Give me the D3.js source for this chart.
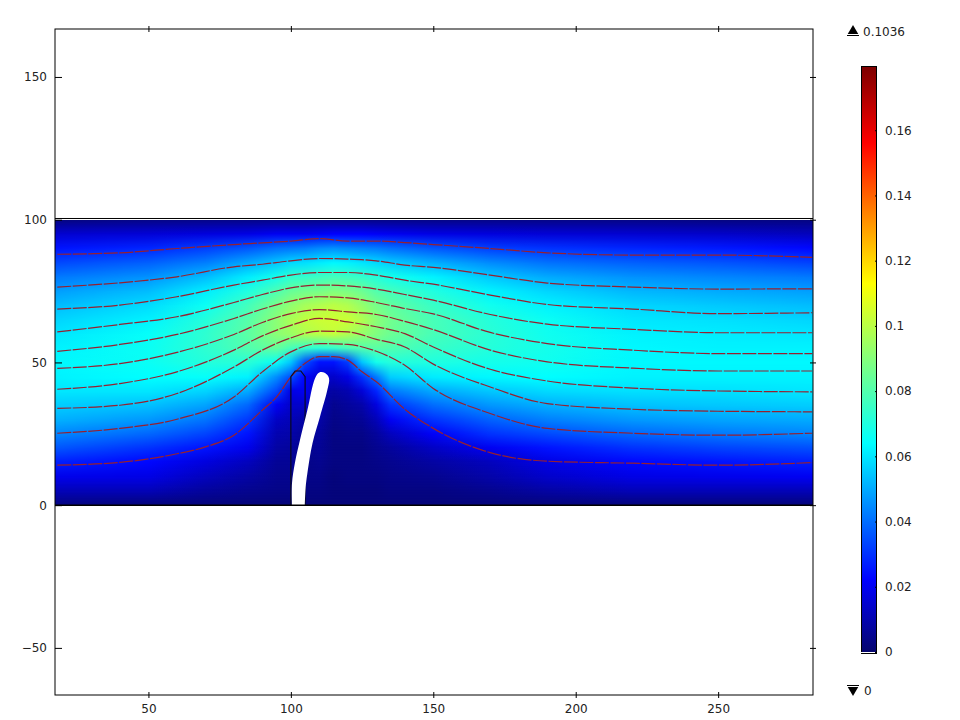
<!DOCTYPE html>
<html>
<head>
<meta charset="utf-8">
<script src="https://cdn.jsdelivr.net/npm/d3@7"></script>
<style>
    html, body { margin: 0; padding: 0; background: #fff; }
    svg { display: block; }
    text { font-family: "DejaVu Sans", sans-serif; font-size: 12px; fill: #222; }
</style>
</head>
<body>
<svg id="chart" width="960" height="720"></svg>
<script>
// Field, one list per column, from y = 100 down to y = 0
const fieldX = [18, 50, 70, 85, 95, 100, 105, 110, 115, 120, 125, 130, 135, 150, 170, 190, 220, 250, 283];
const fieldY = [100, 95, 90, 85, 80, 75, 70, 65, 60, 55, 50, 45, 40, 35, 30, 25, 20, 15, 10, 5, 0];
const fieldColumns = [
    [.003, .015, .025, .034, .042, .048, .053, .057, .060, .062, .063, .062, .060, .056, .051, .044, .036, .027, .019, .011, .003],
    [.004, .016, .028, .038, .046, .053, .058, .062, .065, .066, .066, .064, .060, .054, .047, .039, .030, .023, .018, .011, .002],
    [.004, .017, .032, .043, .053, .061, .066, .071, .073, .073, .071, .065, .057, .049, .041, .033, .025, .017, .012, .007, .002],
    [.004, .018, .036, .050, .061, .070, .077, .081, .082, .080, .072, .062, .050, .039, .031, .025, .019, .012, .008, .005, .002],
    [.004, .020, .040, .055, .068, .079, .087, .091, .091, .084, .066, .045, .034, .020, .013, .010, .008, .006, .005, .004, .002],
    [.004, .020, .041, .058, .073, .084, .092, .097, .094, .078, .055, .035, .018, .014, .011, .009, .007, .006, .005, .004, .002],
    [.004, .020, .042, .059, .074, .086, .096, .101, .098, .074, .035, .022, .020, .014, .008, .006, .005, .004, .004, .003, .002],
    [.004, .021, .044, .061, .076, .087, .098, .103, .100, .072, .025, .015, .010, .011, .009, .007, .006, .005, .004, .003, .002],
    [.004, .022, .045, .063, .077, .089, .100, .1036, .102, .074, .025, .014, .008, .005, .004, .003, .003, .003, .002, .002, .002],
    [.004, .022, .044, .062, .076, .088, .098, .103, .098, .078, .032, .018, .010, .007, .005, .004, .003, .003, .003, .002, .002],
    [.004, .022, .043, .060, .074, .085, .093, .098, .093, .080, .055, .030, .016, .009, .006, .004, .003, .003, .003, .002, .002],
    [.004, .021, .042, .058, .071, .080, .087, .091, .089, .082, .068, .042, .028, .017, .011, .007, .005, .004, .003, .002, .002],
    [.004, .020, .040, .056, .068, .077, .083, .086, .085, .080, .071, .056, .042, .030, .020, .012, .007, .005, .004, .003, .002],
    [.004, .018, .036, .051, .062, .070, .075, .078, .078, .075, .070, .061, .050, .040, .030, .021, .013, .008, .005, .003, .002],
    [.004, .017, .032, .045, .055, .062, .067, .071, .072, .071, .068, .063, .055, .047, .038, .030, .020, .012, .009, .005, .002],
    [.004, .016, .030, .041, .050, .057, .062, .066, .067, .068, .067, .064, .058, .051, .043, .034, .025, .018, .014, .008, .002],
    [.004, .015, .028, .038, .046, .052, .057, .060, .062, .063, .063, .062, .059, .054, .047, .039, .030, .023, .018, .011, .002],
    [.003, .014, .026, .036, .044, .050, .055, .059, .061, .062, .063, .062, .059, .055, .049, .042, .033, .025, .019, .011, .002],
    [.003, .012, .023, .033, .042, .048, .053, .057, .060, .062, .063, .062, .060, .056, .050, .044, .035, .027, .020, .011, .002]
];

// Red contour lines
const contourX = [18, 40, 60, 80, 90, 100, 110, 120, 130, 140, 150, 170, 190, 220, 250, 283];
const contourLines = [
    [87.9, 88.4, 89.9, 91.3, 91.9, 92.5, 93.4, 92.5, 92.5, 92, 91.3, 89.9, 88.4, 87.6, 87.6, 86.8],
    [76.4, 77.9, 80, 83.5, 84.4, 85.6, 86.4, 86.2, 85.6, 84.1, 83.3, 80.6, 77.8, 76.4, 75.7, 75.8],
    [68.7, 70.1, 73, 77.1, 78.8, 80.6, 81.5, 81.5, 80.6, 78.8, 77.4, 73.6, 70.3, 68.7, 67.1, 67.4],
    [60.7, 63.3, 66, 71, 73.8, 76.1, 77.1, 76.8, 75.7, 73.8, 71.8, 66.8, 63.4, 61.6, 60.4, 60.4],
    [53.9, 56.3, 59.8, 65.4, 68.7, 71.5, 73, 72.6, 71, 68.9, 67, 60.5, 56.6, 54.3, 53.1, 53.1],
    [47.9, 49.6, 53.5, 59.8, 64, 67.1, 68.5, 67.7, 66.8, 64.4, 61.5, 54.3, 50.2, 48, 47, 47],
    [40.6, 42.6, 46.7, 54.3, 59.3, 63, 65.4, 64.2, 62.5, 60.1, 55.4, 47.6, 43.5, 41, 40, 39.7],
    [33.9, 35, 39.1, 48.4, 54.3, 58.6, 61, 60.7, 58.1, 55.4, 49.4, 41.4, 35.6, 33.6, 32.9, 32.7],
    [25.2, 26.9, 30.1, 37.9, 46.7, 53.7, 56.6, 56.3, 53.9, 49, 40.9, 32.1, 26.9, 25.2, 24.5, 25.2]
];
const lowestLineX = [18, 40, 60, 70, 80, 90, 95, 100, 105, 110, 115, 120, 125, 130, 140, 150, 170, 190, 220, 250, 283];
const lowestLineY = [14, 15, 18, 20.4, 24.5, 33.3, 37.9, 44.9, 49.7, 52, 52, 50.8, 46.7, 43.2, 33.6, 26.9, 18.4, 15.4, 14.7, 14, 14.9];

// Blade and the box round it
const bladeX = [100.4, 100.4, 101.4, 103.2, 105.8, 108.5, 110, 112, 113.4, 112.8, 110.2, 107.6, 105.8, 105.2, 104.9];
const bladeY = [0, 7.7, 14.7, 22.8, 33.3, 44.5, 46.5, 46.3, 44.5, 40.3, 30.9, 21.7, 11.2, 6.3, 0];
const boxX = [100, 100, 101.5, 103.5, 105, 105];
const boxY = [0, 45, 47, 47, 45, 0];

const xTicks = [50, 100, 150, 200, 250];
const yTicks = [-50, 0, 50, 100, 150];
const barTicks = [0, 0.02, 0.04, 0.06, 0.08, 0.1, 0.12, 0.14, 0.16];
const colorValues = [0, 0.022, 0.064, 0.089, 0.113, 0.135, 0.156, 0.18];
const colorNames = ["#06066e", "#0000ff", "#00ffff", "#80ff80", "#ffff00", "#ff8000", "#ff0000", "#7a0000"];

const svg = d3.select("#chart");
const margin = { top: 29, right: 147, bottom: 25, left: 55 };
const width = +svg.attr("width") - margin.left - margin.right;
const height = +svg.attr("height") - margin.top - margin.bottom;

const x = d3.scaleLinear().domain([17.2, 283.3]).range([margin.left, margin.left + width]);
const y = d3.scaleLinear().domain([-66.5, 166.8]).range([margin.top + height, margin.top]);
const color = d3.scaleLinear().domain(colorValues).range(colorNames).clamp(true);
const barY = d3.scaleLinear().domain([0, 0.18]).range([652, 65]);

const defs = svg.append("defs");

// Vertical fade used to blend each row into the next
const fade = defs.append("linearGradient").attr("id", "fade")
    .attr("x1", 0).attr("x2", 0).attr("y1", 0).attr("y2", 1);
fade.append("stop").attr("offset", 0).attr("stop-color", "#fff");
fade.append("stop").attr("offset", 1).attr("stop-color", "#000");
defs.append("mask").attr("id", "fadeMask")
    .attr("maskContentUnits", "objectBoundingBox")
    .append("rect").attr("width", 1).attr("height", 1).attr("fill", "url(#fade)");

// Field: one horizontal gradient per row, through the column values
const fieldRows = d3.transpose(fieldColumns);
const x0 = x(fieldX[0]);
const xSpan = x(fieldX[fieldX.length - 1]) - x0;
fieldRows.forEach((row, i) => {
    defs.append("linearGradient")
        .attr("id", `row${i}`)
        .attr("gradientUnits", "userSpaceOnUse")
        .attr("x1", x0).attr("x2", x0 + xSpan).attr("y1", 0).attr("y2", 0)
        .selectAll("stop")
        .data(row)
        .join("stop")
        .attr("offset", (d, j) => (x(fieldX[j]) - x0) / xSpan)
        .attr("stop-color", d => color(d));
});

const fieldGroup = svg.append("g");
d3.pairs(fieldY).forEach(([upper, lower], i) => {
    const band = sel => sel
        .attr("x", margin.left)
        .attr("width", width)
        .attr("y", Math.round(y(upper)))
        .attr("height", Math.round(y(lower)) - Math.round(y(upper)));
    fieldGroup.append("rect").call(band).attr("fill", `url(#row${i + 1})`);
    fieldGroup.append("rect").call(band).attr("fill", `url(#row${i})`).attr("mask", "url(#fadeMask)");
});

// Contours
const contourLine = d3.line().x(d => x(d[0])).y(d => y(d[1])).curve(d3.curveMonotoneX);
const allContours = contourLines.map(line => d3.zip(contourX, line));
allContours.push(d3.zip(lowestLineX, lowestLineY));
svg.append("g").selectAll("path")
    .data(allContours)
    .join("path")
    .attr("d", contourLine)
    .attr("fill", "none")
    .attr("stroke", "#962030")
    .attr("stroke-width", 1.2)
    .attr("stroke-dasharray", "14 1.5");

// Box and blade
const straightLine = d3.line().x(d => x(d[0])).y(d => y(d[1]));
svg.append("path")
    .attr("d", straightLine(d3.zip(boxX, boxY)))
    .attr("fill", "none")
    .attr("stroke", "#0a0a20")
    .attr("stroke-width", 1.2);
svg.append("path")
    .attr("d", straightLine.curve(d3.curveCatmullRom)(d3.zip(bladeX, bladeY)))
    .attr("fill", "#fff");

// Walls at y = 100 and y = 0
svg.append("line")
    .attr("x1", x.range()[0]).attr("x2", x.range()[1])
    .attr("y1", y(100) - 1.2).attr("y2", y(100) - 1.2)
    .attr("stroke", "#000");
svg.append("line")
    .attr("x1", x.range()[0]).attr("x2", x.range()[1])
    .attr("y1", y(0)).attr("y2", y(0))
    .attr("stroke", "#000").attr("stroke-width", 1.5);

// Frame and axes
svg.append("rect")
    .attr("x", margin.left).attr("y", margin.top)
    .attr("width", width).attr("height", height)
    .attr("fill", "none").attr("stroke", "#000");

const bottomAxis = svg.append("g").attr("transform", `translate(0,${margin.top + height})`)
    .call(d3.axisBottom(x).tickValues(xTicks).tickFormat(d3.format("d")).tickSizeOuter(0).tickPadding(3));
const topAxis = svg.append("g").attr("transform", `translate(0,${margin.top})`)
    .call(d3.axisTop(x).tickValues(xTicks).tickFormat("").tickSizeOuter(0));
const leftAxis = svg.append("g").attr("transform", `translate(${margin.left},0)`)
    .call(d3.axisLeft(y).tickValues(yTicks).tickFormat(d3.format("d")).tickSizeOuter(0).tickPadding(2));
const rightAxis = svg.append("g").attr("transform", `translate(${margin.left + width},0)`)
    .call(d3.axisRight(y).tickValues(yTicks).tickFormat("").tickSizeOuter(0));

[bottomAxis, topAxis].forEach(a => a.selectAll("line").attr("y1", -3).attr("y2", 3));
rightAxis.selectAll("line").attr("x1", -3).attr("x2", 3);
leftAxis.selectAll("line").attr("x1", 0).attr("x2", 7);
[bottomAxis, topAxis, leftAxis, rightAxis].forEach(a => {
    a.select(".domain").remove();
    a.attr("font-family", null).attr("font-size", null);
});

// Colour bar
const barGradient = defs.append("linearGradient")
    .attr("id", "barGradient")
    .attr("gradientUnits", "userSpaceOnUse")
    .attr("x1", 0).attr("x2", 0).attr("y1", barY(0)).attr("y2", barY(0.18));
barGradient.selectAll("stop")
    .data(colorValues)
    .join("stop")
    .attr("offset", d => d / 0.18)
    .attr("stop-color", d => color(d));

const barTop = 67;
svg.append("rect")
    .attr("x", 861.5).attr("width", 15)
    .attr("y", barTop).attr("height", barY(0) - barTop)
    .attr("fill", "url(#barGradient)");
svg.append("g").selectAll("line")
    .data([861.5, 876.5])
    .join("line")
    .attr("x1", d => d).attr("x2", d => d)
    .attr("y1", barTop).attr("y2", barY(0))
    .attr("stroke", "#000");
svg.append("line").attr("x1", 861).attr("x2", 877).attr("y1", barTop - 0.5).attr("y2", barTop - 0.5).attr("stroke", "#000");
svg.append("line").attr("x1", 861).attr("x2", 877).attr("y1", barY(0) + 1.5).attr("y2", barY(0) + 1.5).attr("stroke", "#000");

const barAxis = svg.append("g").attr("transform", "translate(877,0)")
    .call(d3.axisRight(barY).tickValues(barTicks).tickFormat(d => d).tickSizeOuter(0).tickPadding(2));
barAxis.select(".domain").remove();
barAxis.selectAll("line").attr("x1", -2).attr("x2", 0).attr("stroke", "#000");
barAxis.attr("font-family", null).attr("font-size", null);

// Max and min markers
const marker = d3.symbol().type(d3.symbolTriangle).size(48);
svg.append("path").attr("d", marker).attr("transform", "translate(853,31)").attr("fill", "#000");
svg.append("line").attr("x1", 847).attr("x2", 859).attr("y1", 35.5).attr("y2", 35.5).attr("stroke", "#000");
svg.append("text").attr("x", 863).attr("y", 35.5).text("0.1036");
svg.append("path").attr("d", marker).attr("transform", "translate(853,690) rotate(180)").attr("fill", "#000");
svg.append("line").attr("x1", 847).attr("x2", 859).attr("y1", 685.5).attr("y2", 685.5).attr("stroke", "#000");
svg.append("text").attr("x", 864).attr("y", 694.5).text("0");
</script>
</body>
</html>
